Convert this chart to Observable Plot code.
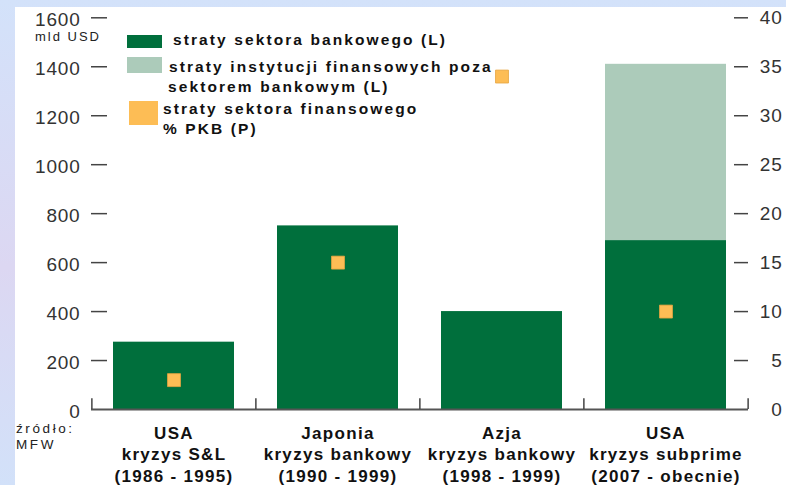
<!DOCTYPE html>
<html><head><meta charset="utf-8">
<script src="https://cdn.jsdelivr.net/npm/d3@7"></script>
<script src="https://cdn.jsdelivr.net/npm/@observablehq/plot@0.6"></script>
<style>
html,body{margin:0;padding:0;background:#fff;}
#wrap{position:relative;width:786px;height:485px;overflow:hidden;background:linear-gradient(180deg,#d3e2fa 0%,#dcd7f2 55%,#d2e1f9 100%);}
#white{position:absolute;left:15px;top:7px;right:0;bottom:0;background:#fff;}
#chart{position:absolute;left:0;top:0;}
#legend{position:absolute;left:0;top:0;pointer-events:none;}
#chart g[aria-label="x-axis tick label"]{letter-spacing:1.3px;}
#chart g[aria-label="y-axis tick label"]{letter-spacing:0.8px;}
#legend text{font-family:"Liberation Sans",Arial,sans-serif;}
</style></head><body>
<div id="wrap"><div id="white"></div><div id="chart"></div><svg id="legend" width="786" height="485"></svg></div>
<script>
// ---- data ----
const categories = ["USA S&L", "Japonia", "Azja", "USA subprime"];
const categoryLabels = [
  "USA\nkryzys S&L\n(1986 - 1995)",
  "Japonia\nkryzys bankowy\n(1990 - 1999)",
  "Azja\nkryzys bankowy\n(1998 - 1999)",
  "USA\nkryzys subprime\n(2007 - obecnie)"
];
const bankLosses = [275, 750, 400, 690];      // mld USD (L)
const nonBankLosses = [0, 0, 0, 720];         // mld USD (L)
const gdpPct = [3, 15, 34, 10];               // % PKB (P)
const leftTicks = [0, 200, 400, 600, 800, 1000, 1200, 1400, 1600];
const rightTicks = [0, 5, 10, 15, 20, 25, 30, 35, 40];
const seriesKeys = ["bank", "nonbank", "pct"];
const seriesColors = ["#006f3c", "#accbba", "#fdbd55"];
const legendLines = [
  ["straty sektora bankowego (L)"],
  ["straty instytucji finansowych poza", "sektorem bankowym (L)"],
  ["straty sektora finansowego", "% PKB (P)"]
];
const unitLabel = "mld USD";
const sourceLines = ["źródło:", "MFW"];

// ---- build ----
const K = 1600 / 40; // right axis -> left axis units
const W = 786, H = 485, mL = 91, mR = 38, mT = 17.3, mB = 76;
const step = (W - mL - mR) / categories.length;

const stackData = [];
categories.forEach((c, i) => {
  stackData.push({cat: c, series: "bank", value: bankLosses[i]});
  stackData.push({cat: c, series: "nonbank", value: nonBankLosses[i]});
});
const pctData = categories.map((c, i) => ({cat: c, pct: gdpPct[i]}));

const font = "Liberation Sans, Arial, sans-serif";
const chart = Plot.plot({
  width: W, height: H, marginLeft: mL, marginRight: mR, marginTop: mT, marginBottom: mB,
  style: {background: "transparent", fontFamily: font, overflow: "visible"},
  x: {domain: categories, paddingInner: 0.263, paddingOuter: 0.1315, label: null},
  y: {domain: [0, 1600], label: null},
  color: {domain: seriesKeys.slice(0, 2), range: seriesColors.slice(0, 2)},
  marks: [
    Plot.barY(stackData, {x: "cat", y: "value", fill: "series"}),
    Plot.dot(pctData, {x: "cat", y: d => d.pct * K, symbol: "square", r: 7.3,
      fill: seriesColors[2], stroke: "#e6a540", strokeWidth: 0.8}),
    Plot.ruleY([0], {stroke: "#555", strokeWidth: 2}),
    Plot.ruleX(categories, {x: d => d, dx: -step / 2, y1: 0, y2: 44, stroke: "#444", strokeWidth: 1.5}),
    Plot.ruleX(categories.slice(-1), {x: d => d, dx: step / 2, y1: 0, y2: 44, stroke: "#444", strokeWidth: 1.5}),
    Plot.axisY(leftTicks.filter(v => v > 0), {anchor: "left", tickSize: 16, dx: 16,
      tickFormat: () => "", stroke: "#444", strokeWidth: 1.5, label: null}),
    Plot.axisY(leftTicks, {anchor: "left", tickSize: 0, tickPadding: 11, dy: 2,
      tickFormat: d => String(d), fontSize: 19, fill: "#333", label: null}),
    Plot.axisY(rightTicks.filter(v => v > 0).map(v => v * K), {anchor: "right", tickSize: 14, dx: -15,
      tickFormat: () => "", stroke: "#444", strokeWidth: 1.5, label: null}),
    Plot.axisY(rightTicks.map(v => v * K), {anchor: "right", tickSize: 0, tickPadding: 34,
      textAnchor: "end", tickFormat: d => String(d / K), fontSize: 19, fill: "#333", label: null}),
    Plot.axisX({anchor: "bottom", tickSize: 0, tickPadding: 14, lineHeight: 1.26,
      tickFormat: c => categoryLabels[categories.indexOf(c)],
      fontSize: 17, fontWeight: "bold", fill: "#111", label: null})
  ]
});
document.getElementById("chart").appendChild(chart);

// ---- legend / annotations overlay ----
const svg = d3.select("#legend");
const sw = [
  {x: 127, y: 35, w: 35, h: 13},
  {x: 127, y: 57, w: 35, h: 16},
  {x: 129, y: 101, w: 29, h: 24}
];
sw.forEach((s, i) => svg.append("rect").attr("x", s.x).attr("y", s.y)
  .attr("width", s.w).attr("height", s.h).attr("fill", seriesColors[i]));
const lpos = [
  [[173, 45]],
  [[169, 71.5], [168, 92]],
  [[163, 113.5], [163, 134]]
];
legendLines.forEach((lines, i) => lines.forEach((t, j) => {
  svg.append("text").attr("x", lpos[i][j][0]).attr("y", lpos[i][j][1])
    .attr("font-size", 15.5).attr("font-weight", "bold").attr("fill", "#111")
    .style("letter-spacing", "2.1px").text(t);
}));
svg.append("text").attr("x", 35).attr("y", 41).attr("font-size", 13)
  .attr("fill", "#222").style("letter-spacing", "2px").text(unitLabel);
sourceLines.forEach((t, j) => svg.append("text").attr("x", 16).attr("y", 433 + j * 15.5)
  .attr("font-size", 13.5).attr("fill", "#222").style("letter-spacing", "2.6px").text(t));
</script>
</body></html>
